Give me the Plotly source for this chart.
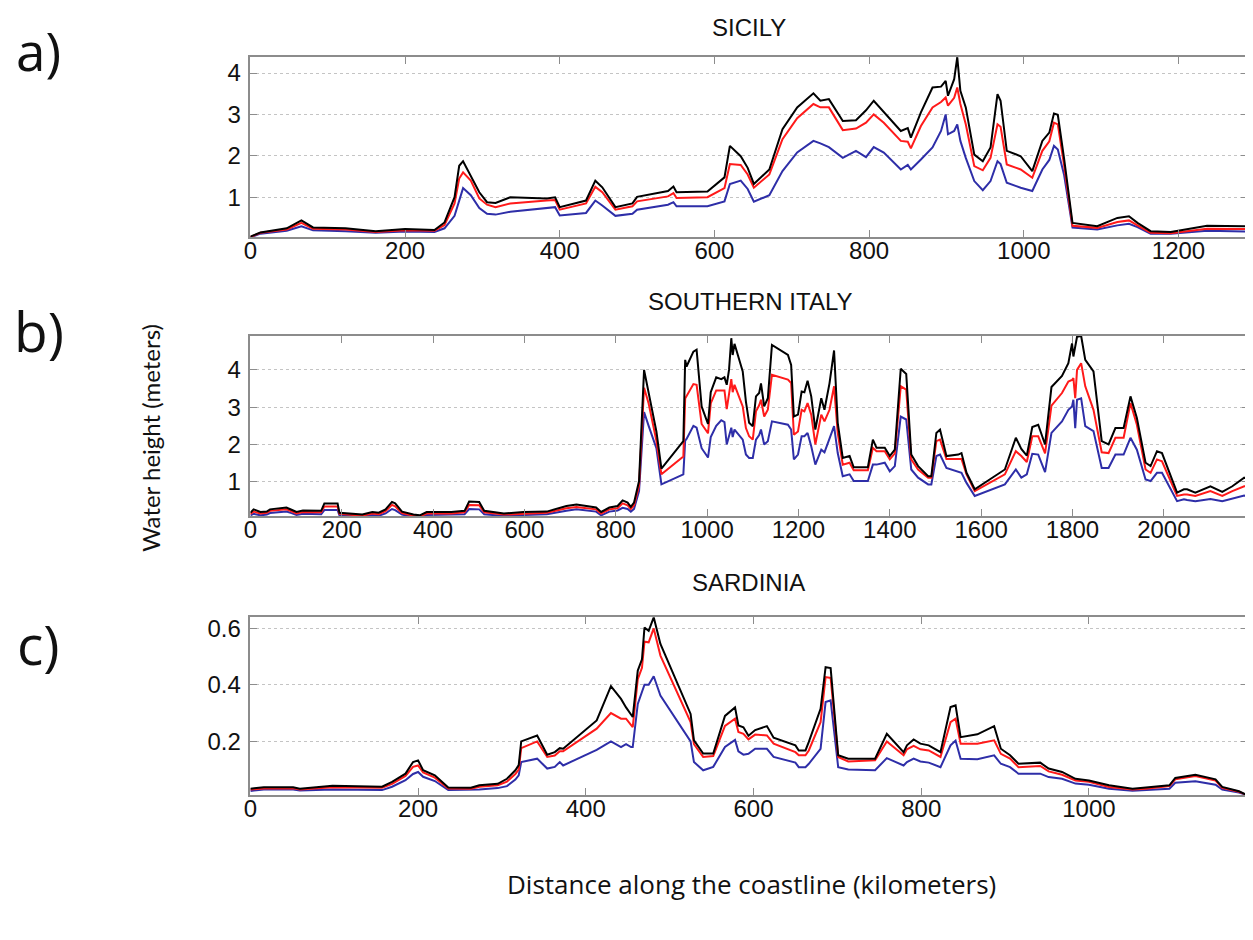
import plotly.graph_objects as go

# ---------------- DATA ----------------
# a) SICILY
sicily_km = [0, 13, 47, 66, 81, 123, 162, 200, 238, 251,
             264, 270, 275, 285, 296, 306, 317, 336, 383, 394,
             400, 434, 446, 455, 472, 494, 500, 540, 547, 551,
             591, 613, 620, 634, 643, 651, 671, 688, 707, 728,
             737, 748, 766, 783, 796, 806, 819, 841, 850, 854,
             867, 882, 893, 899, 902, 910, 914, 918, 925, 936,
             947, 957, 966, 970, 978, 996, 1011, 1024, 1033, 1039,
             1044, 1052, 1063, 1095, 1121, 1136, 1147, 1164, 1190, 1237,
             1289]
sicily_black = [0.05, 0.15, 0.25, 0.44, 0.27, 0.25, 0.18, 0.23, 0.21, 0.39,
                1.00, 1.76, 1.87, 1.50, 1.12, 0.88, 0.86, 1.00, 0.97, 1.00,
                0.76, 0.92, 1.40, 1.24, 0.76, 0.85, 1.01, 1.15, 1.26, 1.12,
                1.14, 1.48, 2.24, 1.99, 1.71, 1.32, 1.67, 2.64, 3.17, 3.51,
                3.33, 3.37, 2.84, 2.86, 3.10, 3.33, 3.05, 2.60, 2.67, 2.44,
                3.05, 3.65, 3.67, 3.81, 3.45, 3.85, 4.38, 3.57, 3.17, 2.03,
                1.87, 2.20, 3.49, 3.33, 2.12, 1.99, 1.63, 2.36, 2.56, 3.02,
                2.99, 1.95, 0.38, 0.30, 0.50, 0.54, 0.38, 0.18, 0.16, 0.31,
                0.30]
sicily_red = [0.04, 0.14, 0.22, 0.38, 0.24, 0.22, 0.16, 0.20, 0.19, 0.33,
              0.85, 1.45, 1.60, 1.40, 0.97, 0.82, 0.76, 0.85, 0.92, 0.93,
              0.70, 0.85, 1.25, 1.12, 0.70, 0.78, 0.90, 1.02, 1.10, 0.98,
              1.00, 1.22, 1.80, 1.78, 1.55, 1.23, 1.55, 2.40, 2.91, 3.25,
              3.17, 3.17, 2.62, 2.66, 2.80, 3.00, 2.80, 2.36, 2.34, 2.18,
              2.72, 3.17, 3.30, 3.41, 3.21, 3.40, 3.65, 3.25, 2.76, 1.75,
              1.65, 1.95, 2.76, 2.70, 1.79, 1.67, 1.47, 2.12, 2.35, 2.80,
              2.76, 1.79, 0.31, 0.26, 0.40, 0.44, 0.32, 0.14, 0.13, 0.24,
              0.23]
sicily_blue = [0.03, 0.12, 0.19, 0.30, 0.20, 0.18, 0.14, 0.17, 0.16, 0.25,
               0.55, 0.95, 1.22, 1.05, 0.74, 0.60, 0.58, 0.65, 0.73, 0.76,
               0.56, 0.62, 0.92, 0.80, 0.55, 0.60, 0.70, 0.82, 0.88, 0.78,
               0.78, 0.90, 1.32, 1.40, 1.20, 0.89, 1.05, 1.63, 2.08, 2.36,
               2.30, 2.21, 1.95, 2.12, 1.97, 2.21, 2.08, 1.67, 1.78, 1.67,
               1.91, 2.20, 2.60, 3.00, 2.52, 2.60, 2.76, 2.36, 1.95, 1.39,
               1.17, 1.39, 1.87, 1.80, 1.35, 1.23, 1.15, 1.67, 1.90, 2.24,
               2.15, 1.55, 0.27, 0.22, 0.32, 0.36, 0.28, 0.12, 0.12, 0.19,
               0.17]

# b) SOUTHERN ITALY
italy_km = [0, 7, 22, 36, 43, 79, 90, 101, 115, 155,
            162, 191, 195, 231, 245, 267, 281, 296, 310, 317,
            332, 357, 371, 386, 440, 469, 479, 501, 512, 555,
            598, 649, 692, 714, 757, 768, 786, 804, 815, 826,
            833, 840, 851, 862, 872, 889, 900, 948, 952, 955,
            970, 977, 988, 1002, 1008, 1020, 1031, 1038, 1043, 1048,
            1053, 1056, 1060, 1078, 1085, 1092, 1100, 1107, 1114, 1118,
            1125, 1133, 1142, 1177, 1184, 1190, 1199, 1207, 1213, 1220,
            1228, 1237, 1250, 1257, 1268, 1278, 1286, 1297, 1312, 1321,
            1352, 1363, 1371, 1389, 1400, 1411, 1424, 1436, 1447, 1462,
            1484, 1491, 1502, 1510, 1524, 1550, 1557, 1568, 1586, 1652,
            1676, 1688, 1700, 1712, 1725, 1740, 1754, 1777, 1791, 1799,
            1802, 1806, 1810, 1819, 1828, 1846, 1864, 1879, 1894, 1912,
            1927, 1941, 1960, 1971, 1985, 1996, 2029, 2044, 2051, 2069,
            2102, 2128, 2150, 2176, 2186]
italy_black = [0.17, 0.26, 0.19, 0.20, 0.26, 0.31, 0.25, 0.19, 0.23, 0.22,
               0.42, 0.42, 0.17, 0.14, 0.12, 0.19, 0.17, 0.26, 0.46, 0.42,
               0.20, 0.12, 0.10, 0.19, 0.19, 0.22, 0.47, 0.46, 0.22, 0.15,
               0.19, 0.20, 0.35, 0.39, 0.31, 0.19, 0.31, 0.35, 0.50, 0.44,
               0.33, 0.44, 1.02, 4.00, 3.38, 2.35, 1.35, 2.09, 4.27, 4.09,
               4.49, 4.54, 3.02, 2.55, 3.40, 3.80, 3.75, 3.80, 3.60, 4.00,
               4.85, 4.40, 4.70, 3.96, 3.15, 2.58, 2.49, 3.29, 3.38, 3.64,
               3.02, 3.24, 4.67, 4.40, 4.13, 2.75, 2.80, 3.42, 3.40, 3.71,
               3.29, 2.40, 3.24, 2.93, 3.64, 4.52, 2.58, 1.64, 1.69, 1.39,
               1.39, 2.13, 1.91, 1.91, 1.69, 1.86, 4.03, 3.89, 1.73, 1.42,
               1.15, 1.15, 2.31, 2.40, 1.69, 1.73, 1.77, 1.24, 0.80, 1.33,
               2.18, 1.88, 1.70, 2.47, 2.53, 2.00, 3.54, 3.84, 4.18, 4.71,
               4.36, 4.67, 4.89, 4.91, 4.27, 3.96, 2.09, 2.00, 2.44, 2.44,
               3.29, 2.71, 1.51, 1.42, 1.82, 1.77, 0.71, 0.80, 0.80, 0.71,
               0.88, 0.73, 0.88, 1.11, 1.06]
italy_red = [0.14, 0.20, 0.15, 0.17, 0.22, 0.26, 0.21, 0.15, 0.19, 0.18,
             0.34, 0.34, 0.14, 0.11, 0.09, 0.15, 0.13, 0.21, 0.38, 0.34,
             0.16, 0.09, 0.07, 0.15, 0.15, 0.18, 0.38, 0.37, 0.18, 0.12,
             0.15, 0.17, 0.29, 0.32, 0.26, 0.15, 0.26, 0.29, 0.42, 0.37,
             0.27, 0.37, 0.90, 3.52, 3.10, 2.10, 1.20, 1.68, 3.23, 3.30,
             3.62, 3.60, 2.55, 2.30, 3.10, 3.45, 3.45, 3.45, 2.95, 3.30,
             3.75, 3.40, 3.60, 3.02, 2.44, 2.22, 2.13, 2.89, 3.05, 3.20,
             2.75, 2.93, 3.87, 3.74, 3.65, 2.26, 2.35, 2.93, 2.89, 3.11,
             2.80, 2.00, 2.80, 2.62, 2.93, 3.56, 2.31, 1.46, 1.51, 1.31,
             1.31, 1.91, 1.82, 1.82, 1.60, 1.76, 3.56, 3.47, 1.60, 1.33,
             1.11, 1.11, 2.09, 2.13, 1.61, 1.61, 1.61, 1.20, 0.75, 1.20,
             1.82, 1.69, 1.53, 2.22, 2.22, 1.76, 3.04, 3.38, 3.69, 3.73,
             3.78, 3.24, 4.00, 4.18, 3.56, 2.93, 1.79, 1.77, 2.18, 2.18,
             3.11, 2.53, 1.33, 1.24, 1.60, 1.55, 0.62, 0.66, 0.66, 0.62,
             0.75, 0.62, 0.75, 0.88, 0.87]
italy_blue = [0.10, 0.14, 0.10, 0.12, 0.16, 0.20, 0.16, 0.11, 0.14, 0.13,
              0.24, 0.24, 0.10, 0.08, 0.06, 0.11, 0.09, 0.15, 0.27, 0.24,
              0.12, 0.06, 0.05, 0.11, 0.11, 0.13, 0.27, 0.26, 0.13, 0.08,
              0.11, 0.13, 0.22, 0.26, 0.20, 0.10, 0.20, 0.23, 0.30, 0.27,
              0.20, 0.27, 0.75, 2.87, 2.50, 1.90, 0.93, 1.20, 2.10, 2.15,
              2.50, 2.45, 1.90, 1.65, 2.20, 2.50, 2.65, 2.60, 2.00, 2.20,
              2.45, 2.20, 2.40, 2.13, 1.73, 1.64, 1.64, 2.13, 2.25, 2.40,
              2.00, 2.09, 2.62, 2.53, 2.40, 1.60, 1.73, 2.22, 2.22, 2.31,
              1.95, 1.46, 1.86, 1.79, 2.13, 2.49, 1.77, 1.15, 1.20, 1.02,
              1.02, 1.46, 1.46, 1.51, 1.28, 1.42, 2.75, 2.67, 1.33, 1.11,
              0.93, 0.93, 1.69, 1.73, 1.37, 1.28, 1.24, 0.97, 0.62, 0.93,
              1.33, 1.11, 1.20, 1.75, 1.73, 1.26, 2.31, 2.62, 2.93, 3.02,
              3.20, 2.44, 3.20, 3.24, 2.49, 2.36, 1.37, 1.37, 1.73, 1.73,
              2.18, 1.86, 1.06, 1.02, 1.24, 1.24, 0.48, 0.53, 0.51, 0.48,
              0.54, 0.48, 0.54, 0.63, 0.62]

# c) SARDINIA
sardinia_km = [0, 16, 51, 59, 98, 157, 169, 185, 194, 200,
               206, 220, 236, 263, 273, 295, 306, 316, 320, 323,
               342, 354, 363, 369, 373, 413, 430, 442, 448, 454,
               456, 462, 467, 470, 475, 481, 489, 525, 529, 540,
               552, 566, 578, 582, 588, 594, 602, 616, 624, 650,
               654, 662, 666, 680, 686, 692, 701, 713, 745, 759,
               779, 783, 791, 799, 809, 823, 835, 841, 847, 867,
               887, 895, 906, 916, 942, 952, 968, 984, 1000, 1024,
               1052, 1068, 1096, 1103, 1127, 1151, 1159, 1179, 1189]
sardinia_black = [0.033, 0.038, 0.038, 0.033, 0.043, 0.040, 0.057, 0.086, 0.127, 0.133,
                  0.098, 0.080, 0.037, 0.036, 0.045, 0.050, 0.068, 0.098, 0.116, 0.200,
                  0.221, 0.153, 0.162, 0.176, 0.174, 0.274, 0.395, 0.350, 0.320, 0.294,
                  0.286, 0.450, 0.490, 0.602, 0.590, 0.638, 0.544, 0.297, 0.204, 0.157,
                  0.157, 0.290, 0.320, 0.256, 0.250, 0.220, 0.240, 0.254, 0.213, 0.186,
                  0.168, 0.168, 0.198, 0.315, 0.462, 0.459, 0.151, 0.139, 0.139, 0.227,
                  0.162, 0.186, 0.207, 0.192, 0.186, 0.162, 0.321, 0.327, 0.215, 0.225,
                  0.254, 0.174, 0.151, 0.121, 0.125, 0.104, 0.092, 0.068, 0.062, 0.045,
                  0.033, 0.037, 0.045, 0.071, 0.082, 0.066, 0.039, 0.024, 0.010]
sardinia_red = [0.030, 0.034, 0.034, 0.030, 0.038, 0.036, 0.050, 0.078, 0.110, 0.115,
                0.090, 0.072, 0.034, 0.033, 0.040, 0.045, 0.058, 0.085, 0.100, 0.176,
                0.200, 0.145, 0.150, 0.165, 0.165, 0.245, 0.300, 0.280, 0.280, 0.255,
                0.250, 0.420, 0.460, 0.552, 0.550, 0.599, 0.503, 0.268, 0.190, 0.145,
                0.148, 0.255, 0.280, 0.233, 0.227, 0.207, 0.224, 0.221, 0.192, 0.162,
                0.151, 0.151, 0.168, 0.268, 0.427, 0.424, 0.145, 0.129, 0.133, 0.200,
                0.151, 0.172, 0.184, 0.172, 0.168, 0.145, 0.268, 0.280, 0.192, 0.192,
                0.204, 0.156, 0.139, 0.109, 0.113, 0.094, 0.082, 0.062, 0.057, 0.039,
                0.030, 0.033, 0.042, 0.066, 0.078, 0.062, 0.036, 0.022, 0.010]
sardinia_blue = [0.025, 0.030, 0.030, 0.027, 0.030, 0.028, 0.040, 0.063, 0.085, 0.092,
                 0.075, 0.060, 0.028, 0.028, 0.030, 0.035, 0.042, 0.065, 0.080, 0.127,
                 0.139, 0.104, 0.110, 0.127, 0.115, 0.170, 0.200, 0.180, 0.190, 0.180,
                 0.180, 0.332, 0.370, 0.400, 0.400, 0.430, 0.362, 0.200, 0.127, 0.098,
                 0.110, 0.180, 0.205, 0.165, 0.153, 0.156, 0.174, 0.174, 0.145, 0.125,
                 0.109, 0.109, 0.121, 0.174, 0.339, 0.345, 0.109, 0.101, 0.098, 0.141,
                 0.115, 0.127, 0.139, 0.129, 0.125, 0.109, 0.186, 0.203, 0.139, 0.137,
                 0.151, 0.121, 0.109, 0.086, 0.086, 0.074, 0.068, 0.051, 0.047, 0.033,
                 0.026, 0.028, 0.033, 0.054, 0.059, 0.047, 0.030, 0.019, 0.010]

panel_titles = ["SICILY", "SOUTHERN ITALY", "SARDINIA"]
panel_letters = ["a)", "b)", "c)"]
x_ticks_sicily = [0, 200, 400, 600, 800, 1000, 1200]
x_ticks_italy = [0, 200, 400, 600, 800, 1000, 1200, 1400, 1600, 1800, 2000]
x_ticks_sardinia = [0, 200, 400, 600, 800, 1000]
y_ticks_sicily = [1, 2, 3, 4]
y_ticks_italy = [1, 2, 3, 4]
y_ticks_sardinia = [0.2, 0.4, 0.6]
y_ticktext_sardinia = ["0.2", "0.4", "0.6"]
y_title = "Water height (meters)"
x_title = "Distance along the coastline (kilometers)"

for xs, ys in [(sicily_km, [sicily_black, sicily_red, sicily_blue]),
               (italy_km, [italy_black, italy_red, italy_blue]),
               (sardinia_km, [sardinia_black, sardinia_red, sardinia_blue])]:
    for s in ys:
        assert len(s) == len(xs)

# ---------------- FIGURE ----------------
W, H = 1253, 940
BLACK, RED, BLUE = "#000000", "#ff1a1a", "#2e2ea8"
FRAME = "#8c8c8c"

panels = [
    dict(x=sicily_km, series=[sicily_blue, sicily_red, sicily_black],
         xr=[0, 1290], yr=[0.04, 4.39], xt=x_ticks_sicily, yt=y_ticks_sicily,
         ytt=[str(v) for v in y_ticks_sicily], px=(236.7, 1240.0), py=(46.0, 226.7)),
    dict(x=italy_km, series=[italy_blue, italy_red, italy_black],
         xr=[0, 2186], yr=[0.08, 4.91], xt=x_ticks_italy, yt=y_ticks_italy,
         ytt=[str(v) for v in y_ticks_italy], px=(236.7, 1240.7), py=(326.0, 506.7)),
    dict(x=sardinia_km, series=[sardinia_blue, sardinia_red, sardinia_black],
         xr=[0, 1189], yr=[0.01, 0.638], xt=x_ticks_sardinia, yt=y_ticks_sardinia,
         ytt=y_ticktext_sardinia, px=(236.7, 1239.3), py=(608.3, 786.7)),
]

fig = go.Figure()
layout = dict(
    width=W, height=H,
    margin=dict(l=0, r=0, t=0, b=0),
    paper_bgcolor="white", plot_bgcolor="white",
    showlegend=False,
    font=dict(family="Liberation Sans, Arial, sans-serif", size=22, color="black"),
)
annotations = []
TICKFONT = dict(family="Liberation Sans, Arial, sans-serif", size=24, color="#111111")
TITLEFONT = dict(family="Liberation Sans, Arial, sans-serif", size=24, color="#111111")

for i, p in enumerate(panels):
    n = "" if i == 0 else str(i + 1)
    xa, ya = "x" + n, "y" + n
    for s, c in zip(p["series"], [BLUE, RED, BLACK]):
        fig.add_trace(go.Scatter(x=p["x"], y=s, mode="lines",
                                 line=dict(color=c, width=2),
                                 xaxis=xa, yaxis=ya, hoverinfo="skip"))
    xd = [p["px"][0] / W, p["px"][1] / W]
    yd = [1 - p["py"][1] / H, 1 - p["py"][0] / H]
    layout["xaxis" + n] = dict(
        domain=xd, range=p["xr"], anchor=ya, tickmode="array", tickvals=p["xt"],
        ticks="inside", ticklen=7, tickcolor=FRAME, tickwidth=1,
        showline=True, linecolor=FRAME, linewidth=1.5, mirror="ticks",
        showgrid=False, zeroline=False, tickfont=TICKFONT, ticklabelstandoff=-9)
    layout["yaxis" + n] = dict(
        domain=yd, range=p["yr"], anchor=xa, tickmode="array", tickvals=p["yt"],
        ticktext=p["ytt"],
        ticks="inside", ticklen=7, tickcolor=FRAME, tickwidth=1,
        showline=True, linecolor=FRAME, linewidth=1.5, mirror="ticks",
        showgrid=True, gridcolor="#c4c4c4", griddash="dot", gridwidth=1,
        zeroline=False, tickfont=TICKFONT, ticklabelstandoff=3)

# panel titles
cx_a = (panels[0]["px"][0] + panels[0]["px"][1]) / 2 / W
annotations.append(dict(text=panel_titles[0], x=cx_a, y=1 - 1 / H,
                        xref="paper", yref="paper", xanchor="center", yanchor="top",
                        showarrow=False, font=TITLEFONT))
for i in (1, 2):
    p = panels[i]
    cx = (p["px"][0] + p["px"][1]) / 2 / W
    annotations.append(dict(text=panel_titles[i], x=cx, y=1 - (p["py"][0] - 35) / H,
                            xref="paper", yref="paper", xanchor="center", yanchor="middle",
                            showarrow=False, font=TITLEFONT))

# panel letters
annotations.append(dict(text=panel_letters[0], x=24 / W, y=1 - 1 / H, xref="paper", yref="paper",
                        xanchor="center", yanchor="top", showarrow=False,
                        font=dict(family="Open Sans, sans-serif", size=53, color="#111111")))
letter_y = [None, 321, 635]
for i in (1, 2):
    annotations.append(dict(text=panel_letters[i], x=24 / W, y=1 - letter_y[i] / H,
                            xref="paper", yref="paper",
                            xanchor="center", yanchor="middle", showarrow=False,
                            font=dict(family="Open Sans, sans-serif", size=55, color="#111111")))

annotations.append(dict(text=y_title, x=136 / W, y=1 - 428 / H, xref="paper", yref="paper",
                        xanchor="center", yanchor="middle", textangle=-90, showarrow=False,
                        font=dict(family="Lato, sans-serif", size=24, color="#111111")))
annotations.append(dict(text=x_title, x=741 / W, y=1 - 876 / H, xref="paper", yref="paper",
                        xanchor="center", yanchor="middle", showarrow=False,
                        font=dict(family="Open Sans, sans-serif", size=26, color="#111111")))
layout["annotations"] = annotations
fig.update_layout(**layout)
fig.write_html("out.html")
